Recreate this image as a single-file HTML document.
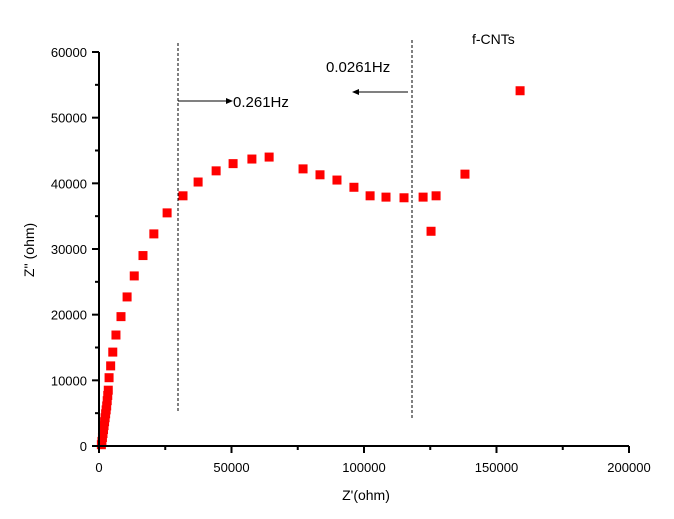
<!DOCTYPE html>
<html><head><meta charset="utf-8"><style>
body{margin:0;background:#fff}
svg{display:block;font-family:"Liberation Sans",Arial,sans-serif}
</style></head><body>
<svg id="chart" width="674" height="519" viewBox="0 0 674 519" xmlns="http://www.w3.org/2000/svg">
<rect width="674" height="519" fill="#fff"/>
<g id="marks"></g>
<g id="axes"></g>
<g>
<line x1="178" y1="43" x2="178" y2="412" stroke="#000" stroke-width="1" stroke-dasharray="3,2"/>
<line x1="412" y1="40" x2="412" y2="420" stroke="#000" stroke-width="1" stroke-dasharray="3,2"/>
<line x1="178" y1="101" x2="232" y2="101" stroke="#000" stroke-width="1"/>
<polygon points="233,101 226,98 226,104" fill="#000"/>
<text x="233" y="107" font-size="15">0.261Hz</text>
<line x1="408" y1="92" x2="353" y2="92" stroke="#000" stroke-width="1"/>
<polygon points="352,92 359,89 359,95" fill="#000"/>
<text x="326" y="72" font-size="15">0.0261Hz</text>
<text x="472" y="44" font-size="14">f-CNTs</text>
</g>
<text x="366" y="500" font-size="14" text-anchor="middle">Z'(ohm)</text>
<text transform="translate(34,250) rotate(-90)" font-size="14" text-anchor="middle">Z'' (ohm)</text>
</svg>
<script>
const xValues=[900,1100,1300,1500,1700,1900,2100,2300,2500,2700,2900,3100,3300,3500,3800,4400,5200,6400,8300,10600,13300,16600,20700,25700,31700,37400,44200,50600,57700,64200,77000,83400,89800,96200,102300,108300,115100,122300,127200,125300,138100,158900];
const yValues=[200,700,1300,1900,2500,3100,3700,4300,4900,5500,6100,6900,7700,8500,10400,12200,14300,16900,19700,22700,25900,29000,32300,35500,38100,40200,41900,43000,43700,44000,42200,41300,40500,39400,38100,37900,37800,37900,38100,32700,41400,54100];
const xTicks=[0,50000,100000,150000,200000];
const yTicks=[0,10000,20000,30000,40000,50000,60000];
const X0=99,X1=629,Y0=446,Y1=52;
const sx=v=>X0+v/200000*(X1-X0);
const sy=v=>Y0-v/60000*(Y0-Y1);
const NS="http://www.w3.org/2000/svg";
function mk(t,a){const e=document.createElementNS(NS,t);for(const k in a)e.setAttribute(k,a[k]);return e;}
const marks=document.getElementById('marks');
xValues.forEach((x,i)=>{
 const r=mk('rect',{x:sx(x)-4.5,y:sy(yValues[i])-4.5,width:9,height:9,fill:'#f00'});
 
 
 marks.appendChild(r);
});
const ax=document.getElementById('axes');
ax.appendChild(mk('line',{x1:X0,y1:Y1,x2:X0,y2:Y0+1,stroke:'#000','stroke-width':2}));
ax.appendChild(mk('line',{x1:X0-1,y1:Y0,x2:X1,y2:Y0,stroke:'#000','stroke-width':2}));
xTicks.forEach((v,i)=>{
 ax.appendChild(mk('line',{x1:sx(v),y1:Y0,x2:sx(v),y2:Y0+7,stroke:'#000','stroke-width':2}));
 if(i<xTicks.length-1){const m=(v+xTicks[i+1])/2;ax.appendChild(mk('line',{x1:sx(m),y1:Y0,x2:sx(m),y2:Y0+4,stroke:'#000','stroke-width':2}));}
 const t=mk('text',{x:sx(v),y:Y0+26,'font-size':13,'text-anchor':'middle'});
 t.textContent=v;
 
 
 ax.appendChild(t);
});
yTicks.forEach((v,i)=>{
 ax.appendChild(mk('line',{x1:X0-7,y1:sy(v),x2:X0,y2:sy(v),stroke:'#000','stroke-width':2}));
 if(i<yTicks.length-1){const m=(v+yTicks[i+1])/2;ax.appendChild(mk('line',{x1:X0-4,y1:sy(m),x2:X0,y2:sy(m),stroke:'#000','stroke-width':2}));}
 const t=mk('text',{x:X0-12,y:sy(v)+5,'font-size':13,'text-anchor':'end'});
 t.textContent=v;
 
 
 ax.appendChild(t);
});
</script>
</body></html>
